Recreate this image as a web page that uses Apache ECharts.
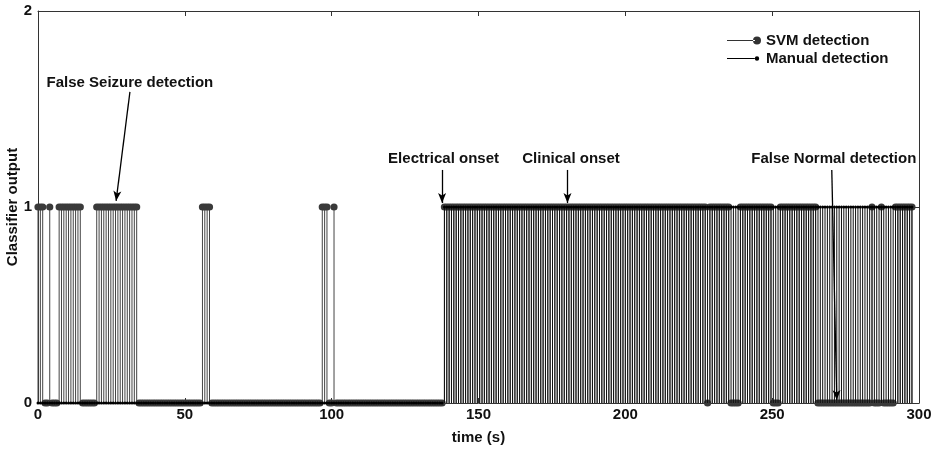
<!DOCTYPE html>
<html lang="en">
<head>
    <meta charset="utf-8">
    <title>Classifier output</title>
    <script type="text/javascript" src="https://cdn.jsdelivr.net/npm/echarts@6/dist/echarts.min.js"></script>
    <style>
        html, body { margin: 0; padding: 0; background: #fff; }
    </style>
</head>
<body>
<div id="main" style="width: 932px;height:450px;"></div>

<script>
    // sampling grid of the classifier (seconds)
    var sampleStep = 0.8;
    var sampleCount = 373;

    // time spans (s) where the output is 1
    var svmOnSpans = [
        [0, 1.6], [4, 4], [7.2, 14.4], [20, 33.6], [56, 58.4],
        [96.8, 98.4], [100.8, 100.8], [138.4, 227.2], [228.8, 235.2],
        [239.2, 249.6], [252.8, 264.8], [284, 284], [287.2, 287.2], [292, 297.6]
    ];
    var manualOnSpans = [
        [138.4, 297.6]
    ];

    var xTicks = [0, 50, 100, 150, 200, 250, 300];
    var yTicks = [0, 1, 2];

    // [text, label x, label y, arrow from x, from y, to x, to y]
    var annotations = [
        ['False Seizure detection', 31.3, 1.633, 31.3, 1.587, 26.6, 1.031],
        ['Electrical onset', 138.1, 1.245, 137.6, 1.189, 137.6, 1.02],
        ['Clinical onset', 181.5, 1.245, 180.3, 1.189, 180.3, 1.02],
        ['False Normal detection', 271.0, 1.245, 270.3, 1.189, 272.0, 0.015]
    ];

    function buildSeries(spans) {
        var out = [];
        for (var k = 0; k < sampleCount; k++) {
            var t = Math.round(k * sampleStep * 10) / 10;
            var v = 0;
            for (var i = 0; i < spans.length; i++) {
                if (t >= spans[i][0] - 0.01 && t <= spans[i][1] + 0.01) v = 1;
            }
            out.push([t, v]);
        }
        return out;
    }

    function stemRender(radius, stemColor, dotColor) {
        return function (params, api) {
            var p0 = api.coord([api.value(0), 0]);
            var p1 = api.coord([api.value(0), api.value(1)]);
            return {
                type: 'group',
                children: [
                    {type: 'line', shape: {x1: p0[0], y1: p0[1], x2: p1[0], y2: p1[1]},
                        style: {stroke: stemColor, lineWidth: 1}},
                    {type: 'circle', shape: {cx: p1[0], cy: p1[1], r: radius},
                        style: {fill: dotColor}}
                ]
            };
        };
    }

    var fontBase = {fontFamily: 'Liberation Sans, Arial, sans-serif', fontWeight: 'bold', fontSize: 15, color: '#111'};

    var chart = echarts.init(document.getElementById('main'));

    var arrowLines = annotations.map(function (a) {
        return [{coord: [a[3], a[4]]}, {coord: [a[5], a[6]]}];
    });
    var labelPoints = annotations.map(function (a) {
        return {coord: [a[1], a[2]], value: a[0]};
    });

    var option = {
        animation: false,
        backgroundColor: '#fff',
        grid: {left: 38, right: 13, top: 11, bottom: 47, containLabel: false, outerBoundsMode: 'none'},
        legend: {
            orient: 'vertical',
            left: 722,
            top: 28,
            itemGap: 3,
            itemWidth: 34,
            itemHeight: 8,
            textStyle: {fontFamily: fontBase.fontFamily, fontWeight: 'bold', fontSize: 15, color: '#111', padding: [0, 0, 0, 0]},
            data: [
                {name: 'SVM detection', icon: 'path://M0,3.5h28v1h-28z M26,4a4,4 0 1,0 8,0a4,4 0 1,0 -8,0z'},
                {name: 'Manual detection', icon: 'path://M0,3.5h28v1h-28z M27.8,4a2.2,2.2 0 1,0 4.4,0a2.2,2.2 0 1,0 -4.4,0z M0,0h0.01v8h-0.01z M34,0h0.01v0.01h-0.01z'}
            ]
        },
        xAxis: [{
            type: 'value', min: 0, max: 300, interval: 50,
            name: 'time (s)', nameLocation: 'middle', nameGap: 27, nameMoveOverlap: false,
            nameTextStyle: fontBase,
            axisLine: {show: true, lineStyle: {color: '#333', width: 1}},
            axisTick: {show: true, inside: true, length: 5, lineStyle: {color: '#333'}},
            axisLabel: {margin: 4, fontFamily: fontBase.fontFamily, fontWeight: 'bold', fontSize: 15, color: '#111',
                customValues: xTicks},
            splitLine: {show: false}
        }, {
            type: 'value', min: 0, max: 300, interval: 50, position: 'top',
            axisLine: {show: true, onZero: false, lineStyle: {color: '#333', width: 1}},
            axisTick: {show: true, inside: true, length: 5, lineStyle: {color: '#333'}},
            axisLabel: {show: false},
            splitLine: {show: false}
        }],
        yAxis: [{
            type: 'value', min: 0, max: 2, interval: 1,
            name: 'Classifier output', nameLocation: 'middle', nameGap: 18, nameMoveOverlap: false,
            nameTextStyle: fontBase,
            axisLine: {show: true, lineStyle: {color: '#333', width: 1}},
            axisTick: {show: true, inside: true, length: 5, lineStyle: {color: '#333'}},
            axisLabel: {margin: 6, fontFamily: fontBase.fontFamily, fontWeight: 'bold', fontSize: 15, color: '#111',
                customValues: yTicks},
            splitLine: {show: false}
        }, {
            type: 'value', min: 0, max: 2, interval: 1, position: 'right',
            axisLine: {show: true, onZero: false, lineStyle: {color: '#333', width: 1}},
            axisTick: {show: true, inside: true, length: 5, lineStyle: {color: '#333'}},
            axisLabel: {show: false},
            splitLine: {show: false}
        }],
        series: [{
            name: 'SVM detection',
            type: 'custom',
            itemStyle: {color: '#333'},
            renderItem: stemRender(3.6, '#444', '#3a3a3a'),
            data: buildSeries(svmOnSpans),
            clip: false
        }, {
            name: 'Manual detection',
            type: 'custom',
            itemStyle: {color: '#000'},
            renderItem: stemRender(1.5, '#111', '#000'),
            data: buildSeries(manualOnSpans),
            clip: false,
            markLine: {
                silent: true,
                symbol: ['none', 'arrow'],
                symbolSize: [6, 10],
                lineStyle: {color: '#000', width: 1.3, type: 'solid'},
                label: {show: false},
                data: arrowLines
            },
            markPoint: {
                silent: true,
                symbol: 'rect',
                symbolSize: 1,
                itemStyle: {color: 'rgba(0,0,0,0)'},
                label: {show: true, position: 'inside', formatter: '{c}',
                    fontFamily: fontBase.fontFamily, fontWeight: 'bold', fontSize: 15, color: '#111'},
                data: labelPoints
            }
        }]
    };
    chart.setOption(option);
</script>
</body>
</html>
